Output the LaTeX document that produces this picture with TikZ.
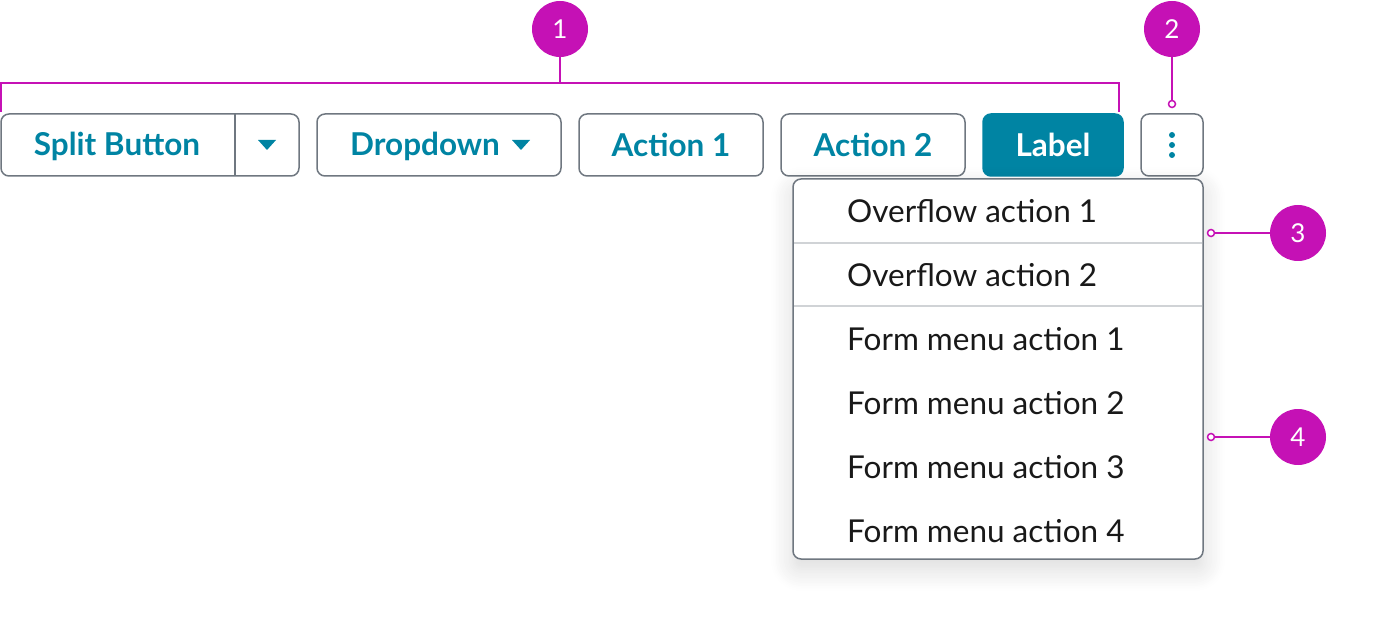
\documentclass[tikz,border=0pt]{standalone}
\usepackage{fontspec}
\setmainfont{Lato}
\usetikzlibrary{shadows.blur}
\definecolor{teal}{HTML}{0084A3}
\definecolor{bord}{HTML}{6F7780}
\definecolor{mag}{HTML}{C511B5}
\definecolor{sep}{HTML}{D0D3D6}
\begin{document}
\begin{tikzpicture}[x=1pt,y=-1pt,
 btn/.style={draw=bord,line width=1.5pt,rounded corners=8pt,minimum height=62pt,inner sep=0pt,
   text=teal,font=\fontsize{31.5}{34}\selectfont\bfseries},
 item/.style={anchor=west,font=\fontsize{31.5}{34}\selectfont,text=black!90,inner sep=0pt},
 call/.style={circle,fill=mag,minimum size=56pt,inner sep=0pt,text=white,font=\fontsize{26}{30}\selectfont},
 cl/.style={draw=mag,line width=1.5pt},
 dot/.style={circle,draw=mag,fill=white,line width=1.5pt,minimum size=7pt,inner sep=0pt},
 tri/.style={fill=teal}]
\useasboundingbox (0,0) rectangle (1392,617);
% buttons
\node[btn,minimum width=298pt] (split) at (150,145) {};
\node[text=teal,font=\fontsize{31.5}{34}\selectfont\bfseries] (splitt) at (117,146) {Split Button};
\draw[draw=bord,line width=1.5pt] (235,114) -- (235,176);
\fill[tri] (258,140) -- (276,140) -- (267,150) -- cycle;
\node[btn,minimum width=244pt] (dd) at (439,145) {};
\node[text=teal,font=\fontsize{31.5}{34}\selectfont\bfseries] (ddt) at (425,146) {Dropdown};
\fill[tri] (512,140) -- (530,140) -- (521,150) -- cycle;
\node[btn,minimum width=184pt] (a1) at (671,145) {Action 1};
\node[btn,minimum width=184pt] (a2) at (873,145) {Action 2};
\node[btn,minimum width=140pt,fill=teal,draw=teal,text=white] (lab) at (1053,145) {Label};
\node[btn,minimum width=62pt] (keb) at (1172,145) {};
\foreach \yy in {135,145,155} \fill[teal] (1172,\yy) circle (3pt);
% menu
\node[draw=bord,line width=1.5pt,rounded corners=8pt,fill=white,minimum width=410pt,minimum height=380pt,
  blur shadow={shadow blur steps=14,shadow xshift=0pt,shadow yshift=-10pt,shadow opacity=15,shadow blur radius=22pt}] (menu) at (998,369) {};
\draw[sep,line width=1.5pt] (794,243) -- (1202,243);
\draw[sep,line width=1.5pt] (794,306) -- (1202,306);
\node[item] (m1) at (847,211) {Overflow action 1};
\node[item] (m2) at (847,275) {Overflow action 2};
\node[item] (m3) at (847,339) {Form menu action 1};
\node[item] (m4) at (847,403) {Form menu action 2};
\node[item] (m5) at (847,467) {Form menu action 3};
\node[item] (m6) at (847,531) {Form menu action 4};
% callouts
\node[call] (c1) at (560,29) {1};
\node[call] (c2) at (1172,29) {2};
\node[call] (c3) at (1298,233) {3};
\node[call] (c4) at (1298,437) {4};
\draw[cl] (c1.south) -- (560,83);
\draw[cl] (1,112) -- (1,83) -- (1119,83) -- (1119,112);
\node[dot] (d2) at (1172,104) {};
\node[dot] (d3) at (1211,233) {};
\node[dot] (d4) at (1211,437) {};
\draw[cl] (c2) -- (d2);
\draw[cl] (c3) -- (d3);
\draw[cl] (c4) -- (d4);
\end{tikzpicture}
\end{document}
